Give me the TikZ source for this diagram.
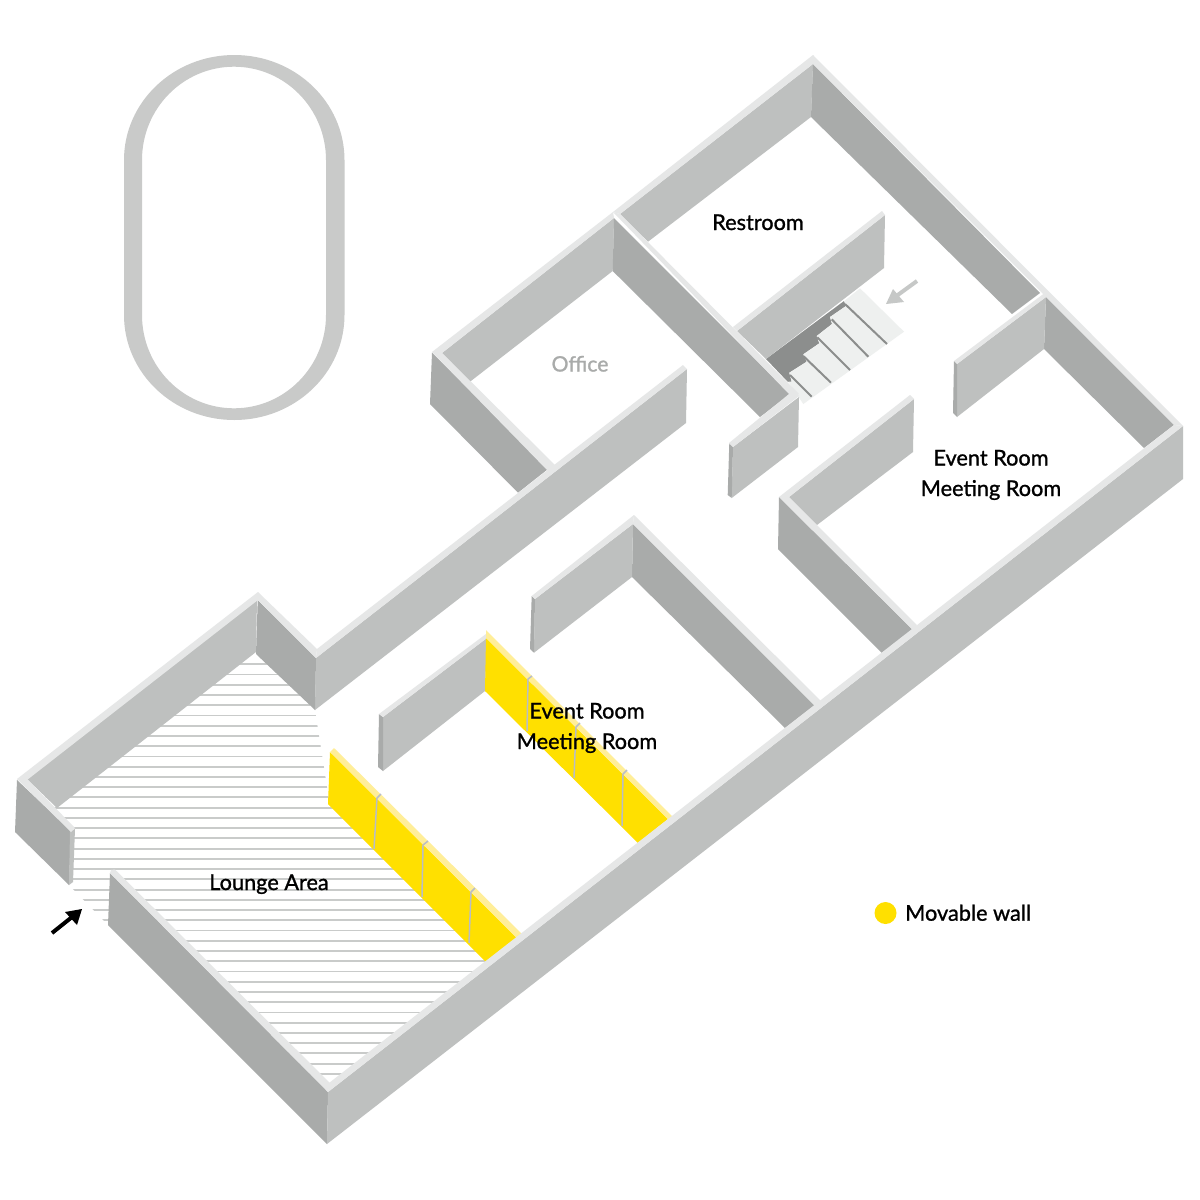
\documentclass[tikz,border=0pt]{standalone}
\usepackage{fontspec}
\setmainfont[FakeBold=1.1]{Lato}
\definecolor{wallL}{HTML}{BEC0BF}
\definecolor{wallD}{HTML}{A9ABAA}
\definecolor{wallT}{HTML}{E6E7E7}
\definecolor{hatch}{HTML}{C9CBCA}
\definecolor{track}{HTML}{C9CAC9}
\definecolor{stairD}{HTML}{8C8E8D}
\definecolor{stairL}{HTML}{EEF0EF}
\definecolor{moveY}{HTML}{FFE000}
\definecolor{moveT}{HTML}{FFEE99}
\definecolor{joint}{HTML}{B9BDC6}
\definecolor{grayarrow}{HTML}{C6C8C7}
\tikzset{
  wl/.style={fill=wallL},
  wd/.style={fill=wallD},
  wt/.style={fill=wallT},
  ymv/.style={fill=moveY},
  ytp/.style={fill=moveT},
  jointline/.style={draw=joint,line width=1.5pt,line join=round},
  hatchline/.style={draw=hatch,line width=1.9pt},
  stepline/.style={draw=stairD,line width=2pt},
  lbl/.style={font=\fontsize{21.8}{24}\selectfont,text=black,inner sep=0pt,anchor=base}
}
\begin{document}
\begin{tikzpicture}[x=1bp,y=-1bp]
\useasboundingbox (0,0) rectangle (1200,1200);
\fill[white] (0,0) rectangle (1200,1200);
% track
\fill[track,even odd rule]
  (124,160) arc[x radius=110.25,y radius=105,start angle=180,end angle=360] -- (344.5,315)
  arc[x radius=110.25,y radius=105,start angle=0,end angle=180] -- cycle
  (142,160) arc[x radius=92,y radius=93.3,start angle=180,end angle=360] -- (326,315)
  arc[x radius=92,y radius=93.3,start angle=0,end angle=180] -- cycle;
% lounge floor
\begin{scope}
\clip (256,650) -- (315,710) -- (330,806) -- (487,962) -- (329,1090) -- (108,925) -- (69,885) -- (71,830) -- (40,790) -- cycle;
\foreach \n in {0,...,40} \draw[hatchline] (0,{664.3+10.24*\n}) -- (600,{664.3+10.24*\n});
\end{scope}
% stairs
\fill[stairD] (766,359) -- (844,301) -- (846,306) -- (830,317) -- (832,324) -- (816.7,336) -- (819.3,343.3) -- (803.3,354.3) -- (806.7,361.7) -- (789.3,372.7) -- (791.7,381.7) -- (788,382) -- cycle;
\fill[stairL] (844.3,301) -- (860,288.3) -- (904,331.7) -- (803.3,404) -- (788.3,381.7) -- (791.7,381.7) -- (789.3,372.7) -- (806.7,361.7) -- (803.3,354.3) -- (819.3,343.3) -- (816.7,336) -- (832,324) -- (830,317) -- (846,306) -- cycle;
\draw[stepline] (845,304) -- (887,344);
\draw[stepline] (831.7,319.3) -- (868.3,356.7);
\draw[stepline] (817.3,337.3) -- (850,370);
\draw[stepline] (803.3,356) -- (831,382.7);
\draw[stepline] (790,375) -- (811.7,396.7);
% back walls
\fill[wl] (620,214) -- (813,64) -- (811,117) -- (648,241.7) -- cycle;
\fill[wt] (613,212) -- (813,55) -- (813,64) -- (620,214) -- cycle;
\fill[wd] (813,64) -- (811,117) -- (1012,314) -- (1040,293) -- cycle;
\fill[wl] (737,331) -- (885,215) -- (884,268) -- (766,359) -- cycle;
\fill[wt] (733,327) -- (882,211) -- (885,215) -- (737,331) -- cycle;
% office
\fill[wl] (442,353) -- (614,218) -- (612.7,271) -- (470,381.7) -- cycle;
\fill[wd] (432,352.5) -- (430,404) -- (518,492.7) -- (548,469) -- cycle;
\fill[wt] (432,352) -- (613,212) -- (614,218) -- (442,353) -- (555,465) -- (548,471) -- cycle;
\fill[wd] (614,218) -- (612.7,271) -- (760,417) -- (790,394) -- cycle;
\fill[wt] (613,212) -- (620,214) -- (799,394) -- (789,394) -- cycle;
\fill[wl] (733,447) -- (799,397) -- (798,447) -- (731.7,498) -- cycle;
\fill[wd] (729.3,443) -- (733,447) -- (731.7,498) -- (727.7,495) -- cycle;
\fill[wt] (729,443) -- (789,394) -- (795,391) -- (799,396) -- (733,447) -- cycle;
% long wall
\fill[wl] (316,658) -- (687,369) -- (686,423) -- (315,710) -- cycle;
\fill[wt] (317,649) -- (683,365) -- (687,369) -- (316,658) -- cycle;
% right event room
\fill[wd] (1046,297) -- (1044,349) -- (1144,448) -- (1174,425) -- cycle;
\fill[wt] (813,55) -- (1183,426) -- (1174,425) -- (813,64) -- cycle;
\fill[wl] (957,364) -- (1046,297) -- (1044,349) -- (957,417) -- cycle;
\fill[wd] (954,361) -- (957,364) -- (957,417) -- (953,413) -- cycle;
\fill[wt] (954,361) -- (1046,292) -- (1050,297) -- (1046,297) -- (957,364) -- cycle;
\fill[wl] (789,497) -- (914,399) -- (913,452) -- (817,525) -- cycle;
\fill[wd] (779,497) -- (778,549) -- (882,653) -- (913,630) -- cycle;
\fill[wt] (779,497) -- (910,395) -- (914,399) -- (789,497) -- (917,625) -- (913,630) -- cycle;
% middle event room
\fill[wd] (633,524) -- (632,577) -- (785,728) -- (815,705) -- cycle;
\fill[wt] (634,515) -- (821,701) -- (815,706) -- (633,524) -- cycle;
\fill[wl] (535,599) -- (633,524) -- (632,577) -- (534,652.7) -- cycle;
\fill[wd] (531.7,596) -- (535,599) -- (534,652.7) -- (530,649) -- cycle;
\fill[wt] (531.7,596) -- (634,515) -- (633,524) -- (535,599) -- cycle;
\fill[wl] (383,717) -- (487,638) -- (485,691) -- (383,771) -- cycle;
\fill[wd] (379,714) -- (383,717) -- (383,771) -- (378,767) -- cycle;
\fill[wt] (379,714) -- (486,634) -- (487,638) -- (383,717) -- cycle;
% movable wall, right
\fill[ymv] (486,638) -- (668,819) -- (638,843) -- (485,691) -- cycle;
\fill[ytp] (486,630) -- (673,817) -- (668,819) -- (486,638) -- cycle;
\draw[jointline] (532,676) -- (528,679) -- (527,731);
\draw[jointline] (580,723) -- (576,727) -- (574,778);
\draw[jointline] (627,770) -- (623,774) -- (622,826);
% movable wall, left
\fill[ymv] (330,752) -- (517,938) -- (486,962) -- (328,804) -- cycle;
\fill[ytp] (330,752) -- (334,748) -- (522,934) -- (517,938) -- cycle;
\draw[jointline] (381,794) -- (377,798) -- (374,849);
\draw[jointline] (428,841) -- (423,845) -- (422,897);
\draw[jointline] (475,888) -- (471,892) -- (469,943);
% lounge walls
\fill[wl] (27,779) -- (257,600) -- (256,652) -- (57,808) -- cycle;
\fill[wd] (257.7,600) -- (256,654) -- (315,710) -- (316,658) -- cycle;
\fill[wt] (17,779) -- (258,592) -- (317,649) -- (316,658) -- (258,600) -- (27,780) -- cycle;
\fill[wd] (17,780) -- (15,832) -- (69,885) -- (71,831) -- cycle;
\fill[wl] (70,831) -- (75,829) -- (73,882) -- (69,885) -- cycle;
\fill[wt] (17,779) -- (27,779) -- (75,828) -- (71,832) -- cycle;
\fill[wd] (110,873) -- (328,1092) -- (327,1144) -- (108,925) -- cycle;
% front wall
\fill[wl] (1183,426) -- (1183,479) -- (327,1144) -- (328,1092) -- cycle;
\fill[wt] (1174,425) -- (1183,426) -- (328,1092) -- (329,1083) -- cycle;
\fill[wt] (111,870) -- (115,869.5) -- (330,1083) -- (328,1092) -- (110,873) -- cycle;
% arrows
\draw[grayarrow,line width=4pt] (917,281) -- (895,297);
\fill[grayarrow] (886,304) -- (893,289) -- (904,302) -- cycle;
\draw[black,line width=4pt] (52,933) -- (72,917);
\fill[black] (82,909) -- (65,912) -- (77,925) -- cycle;
% labels
\node[lbl] (restroom) at (758,230) {Restroom};
\node[lbl,text=wallD,font=\fontsize{21.3}{24}\selectfont] (office) at (580,371.5) {Office};
\node[lbl] (evR) at (991,465.5) {Event Room};
\node[lbl] (mtR) at (991,496) {Meeting Room};
\node[lbl] (evM) at (587,718.5) {Event Room};
\node[lbl] (mtM) at (587,749) {Meeting Room};
\node[lbl] (lounge) at (269,890) {Lounge Area};
\node[fill=moveY,circle,minimum size=22bp,inner sep=0pt] (dot) at (885.5,913) {};
\node[lbl,anchor=base west] (legend) at (905,920.7) {Movable wall};
\end{tikzpicture}
\end{document}
